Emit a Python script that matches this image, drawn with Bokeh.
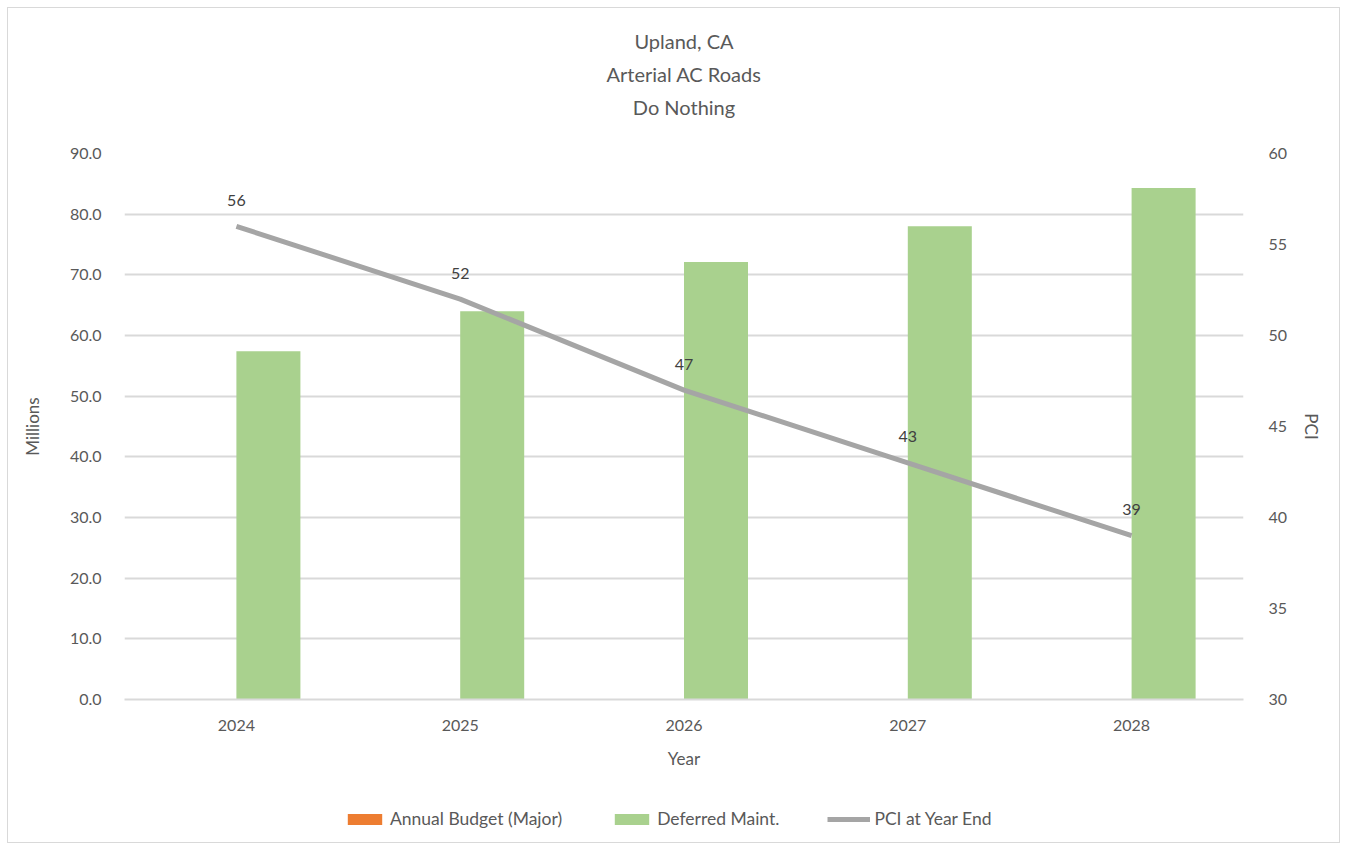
from bokeh.plotting import figure
from bokeh.layouts import column
from bokeh.models import (Range1d, FactorRange, LinearAxis, FixedTicker, Title, Legend,
                          LegendItem, NumeralTickFormatter, ColumnDataSource)
from bokeh.transform import dodge
from bokeh.core.properties import value
from bokeh.embed import file_html
from bokeh.resources import INLINE

years = ["2024", "2025", "2026", "2027", "2028"]
annual_budget = [0, 0, 0, 0, 0]
deferred_maint = [57.4, 64.0, 72.1, 78.0, 84.3]
pci = [56, 52, 47, 43, 39]
title_lines = ["Upland, CA", "Arterial AC Roads", "Do Nothing"]
series_names = ["Annual Budget (Major)", "Deferred Maint.", "PCI at Year End"]

FONT = "Lato"
TXT = "#595959"
GRID = "#D9D9D9"
C_BUDGET, C_DEF, C_PCI = "#ED7D31", "#A9D18E", "#A5A5A5"

src = ColumnDataSource(dict(year=years, budget=annual_budget, deferred=deferred_maint,
                            pci=pci, pci_lbl=[str(v) for v in pci]))
xr = FactorRange(*years, range_padding=0)

p = figure(x_range=xr, y_range=Range1d(0, 90), width=1331, height=771,
           min_border_left=116, min_border_right=96, min_border_top=145, min_border_bottom=80,
           output_backend="svg", toolbar_location=None, background_fill_color="white",
           border_fill_color="white", title=None)
p.outline_line_color = None
p.extra_y_ranges = {"pci": Range1d(30, 60)}

# bars
p.vbar(x=dodge("year", -0.143, range=xr), top="budget", width=0.286,
       source=src, fill_color=C_BUDGET, line_color=None)
p.vbar(x=dodge("year", 0.143, range=xr), top="deferred", width=0.286,
       source=src, fill_color=C_DEF, line_color=None)
p.line(x="year", y="pci", source=src, y_range_name="pci", line_color=C_PCI, line_width=5)
p.text(x="year", y="pci", text="pci_lbl", source=src, y_range_name="pci", y_offset=-26,
       text_align="center", text_baseline="middle", text_font=value(FONT),
       text_font_size="16px", text_color="#404040")

# axes styling
p.xaxis.axis_line_color = GRID
p.xaxis.axis_line_width = 2
p.xaxis.major_tick_line_color = None
p.xaxis.minor_tick_line_color = None
p.xaxis.major_label_standoff = 14
p.xaxis.axis_label = "Year"
p.xaxis.axis_label_standoff = 14

p.yaxis.ticker = FixedTicker(ticks=list(range(0, 91, 10)))
p.yaxis.formatter = NumeralTickFormatter(format="0.0")
p.yaxis.axis_line_color = None
p.yaxis.major_tick_line_color = None
p.yaxis.minor_tick_line_color = None
p.yaxis.major_label_standoff = 17
p.yaxis.axis_label = "Millions"
p.yaxis.axis_label_standoff = 24

ax_r = LinearAxis(y_range_name="pci", ticker=FixedTicker(ticks=list(range(30, 61, 5))),
                  axis_label="PCI", axis_line_color=None, major_tick_line_color=None,
                  minor_tick_line_color=None, major_label_standoff=19, axis_label_standoff=11)
p.add_layout(ax_r, "right")

for ax in [p.xaxis[0], p.yaxis[0], ax_r]:
    ax.major_label_text_font = FONT
    ax.major_label_text_font_size = "16px"
    ax.major_label_text_color = TXT
    ax.axis_label_text_font = FONT
    ax.axis_label_text_font_size = "17px"
    ax.axis_label_text_font_style = "normal"
    ax.axis_label_text_color = TXT

p.xgrid.grid_line_color = None
p.ygrid.grid_line_color = GRID
p.ygrid.grid_line_width = 2

# title lines: spacer nearest the frame, then bottom line first
p.add_layout(Title(text=" ", text_font_size="20px", standoff=7), "above")
for t in reversed(title_lines):
    p.add_layout(Title(text=t, align="center", text_font=FONT, text_font_size="20px",
                       text_font_style="normal", text_color=TXT, standoff=7), "above")

# legend strip: a second figure whose series sit outside its visible range
pl = figure(x_range=xr, y_range=Range1d(-1000, -999), width=1331, height=63,
            min_border_left=0, min_border_right=0, min_border_top=0, min_border_bottom=0,
            output_backend="svg", toolbar_location=None, x_axis_location=None,
            y_axis_location=None, background_fill_color="white", border_fill_color="white")
pl.outline_line_color = None
pl.xgrid.grid_line_color = None
pl.ygrid.grid_line_color = None
lb = pl.vbar(x="year", top="budget", width=0, source=src, fill_color=C_BUDGET, line_color=None)
ld = pl.vbar(x="year", top="deferred", width=0, source=src, fill_color=C_DEF, line_color=None)
lp = pl.line(x="year", y="pci", source=src, line_color=C_PCI, line_width=5)

legend = Legend(items=[LegendItem(label=series_names[0], renderers=[lb]),
                       LegendItem(label=series_names[1], renderers=[ld]),
                       LegendItem(label=series_names[2], renderers=[lp])],
                orientation="horizontal", location=(219, 13), glyph_width=43,
                glyph_height=14, spacing=48, label_standoff=4, padding=0, margin=0,
                label_text_font=FONT, label_text_font_size="17.5px", label_text_color=TXT,
                border_line_color=None, background_fill_alpha=0)
pl.add_layout(legend, "center")

layout = column(p, pl, spacing=0)
layout.styles = {"border": "1px solid #D9D9D9", "margin-left": "7px", "margin-top": "7px"}

open("out.html", "w").write(file_html(layout, INLINE))
